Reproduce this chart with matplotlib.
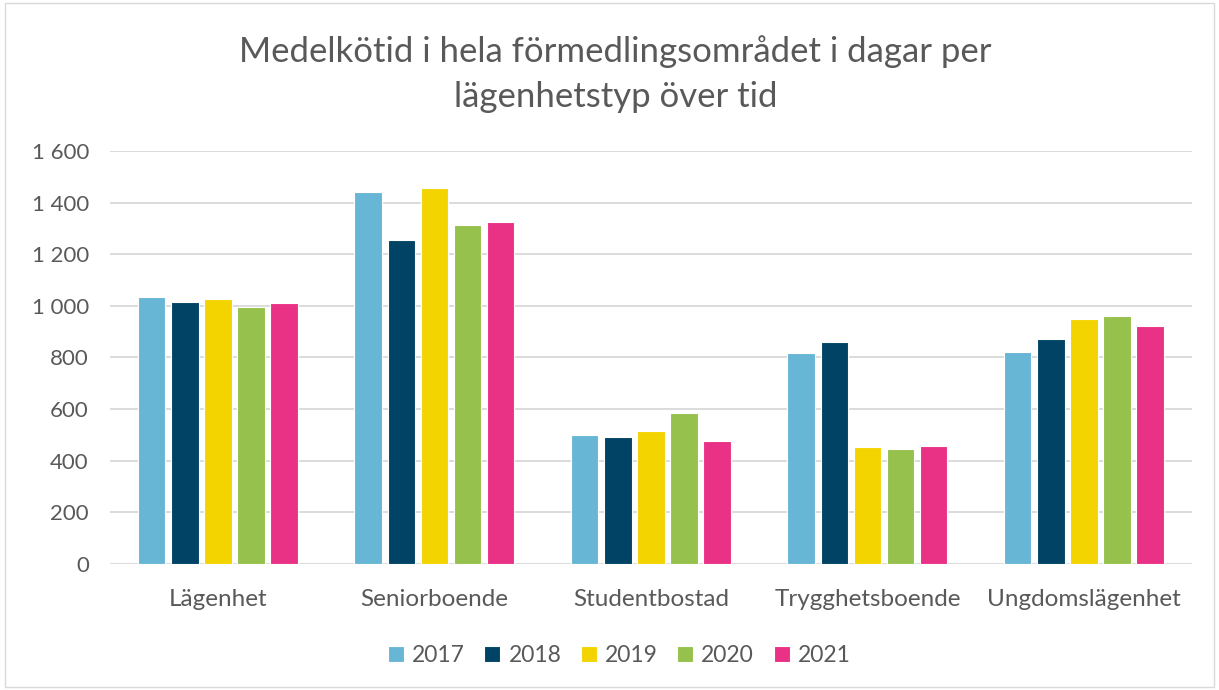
import matplotlib
matplotlib.use("Agg")
import matplotlib.pyplot as plt
import numpy as np
from matplotlib.patches import Rectangle

categories = ["Lägenhet", "Seniorboende", "Studentbostad", "Trygghetsboende", "Ungdomslägenhet"]
years = ["2017", "2018", "2019", "2020", "2021"]
values = {
    "2017": [1035, 1440, 500, 818, 821],
    "2018": [1013, 1255, 490, 860, 872],
    "2019": [1026, 1456, 516, 451, 949],
    "2020": [996, 1313, 584, 444, 962],
    "2021": [1010, 1325, 477, 457, 920],
}
colors = ["#68b6d5", "#004364", "#f3d400", "#95c14c", "#e93185"]
yticks = [0, 200, 400, 600, 800, 1000, 1200, 1400, 1600]
ytick_labels = ["0", "200", "400", "600", "800", "1 000", "1 200", "1 400", "1 600"]

plt.rcParams['font.family'] = ['Lato', 'DejaVu Sans']
txt = "#595959"

fig = plt.figure(figsize=(12.19, 6.9), dpi=100)
fig.patches.append(Rectangle((0.004, 0.004), 0.992, 0.992, transform=fig.transFigure,
                             fill=False, edgecolor="#d9d9d9", linewidth=1))
ax = fig.add_axes([0.090, 0.183, 0.888, 0.598])

x = np.arange(len(categories))
step = 0.153
width = 0.127
for i, y in enumerate(years):
    ax.bar(x + (i - 2) * step, values[y], width=width, color=colors[i],
           edgecolor="white", linewidth=0.8, label=y, zorder=3)

ax.set_ylim(0, 1600)
ax.set_xlim(-0.5, len(categories) - 0.5)
ax.set_yticks(yticks)
ax.set_yticklabels(ytick_labels)
ax.set_xticks(x)
ax.set_xticklabels(categories)
ax.grid(axis="y", color="#d9d9d9", linewidth=1.3, zorder=0)
for s in ax.spines.values():
    s.set_visible(False)
ax.tick_params(axis="both", length=0, colors=txt)
ax.tick_params(axis="y", pad=15, labelsize=16)
ax.tick_params(axis="x", pad=18, labelsize=17.5)

fig.text(0.505, 0.893, "Medelkötid i hela förmedlingsområdet i dagar per\nlägenhetstyp över tid",
         ha="center", va="center", fontsize=25, color=txt, linespacing=1.5)

leg = fig.legend(loc="center", bbox_to_anchor=(0.508, 0.05), ncol=5, frameon=False,
                 fontsize=16.5, handlelength=0.7, handleheight=0.7, handletextpad=0.35,
                 columnspacing=0.85)
for t in leg.get_texts():
    t.set_color(txt)

fig.savefig("out.png", dpi=100)
